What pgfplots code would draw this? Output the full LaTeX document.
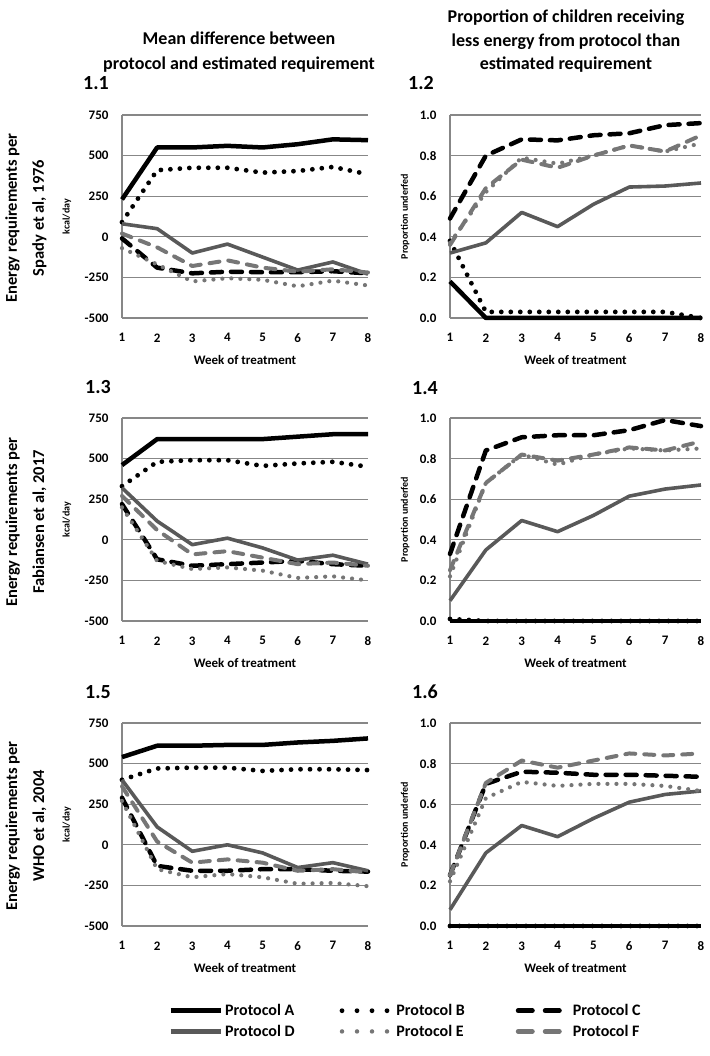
\documentclass[border=0pt]{standalone}
\usepackage{fontspec}
\setmainfont{Carlito}
\usepackage{pgfplots}
\usepackage{pgfplotstable}
\pgfplotsset{compat=1.18}

\definecolor{dgray}{RGB}{89,89,89}
\definecolor{mgray}{RGB}{118,118,118}
\definecolor{gridc}{RGB}{135,135,135}

% week A B C D E F
\pgfplotstableread{
w A B C D E F
1 230 90 -10 80 -70 20
2 550 410 -190 50 -170 -65
3 550 425 -225 -100 -275 -180
4 560 425 -215 -45 -255 -145
5 550 395 -218 -125 -265 -190
6 570 405 -218 -205 -305 -215
7 600 430 -212 -155 -270 -200
8 595 385 -225 -230 -300 -220
}\tabone
\pgfplotstableread{
w A B C D E F
1 0.18 0.38 0.49 0.32 0.37 0.36
2 0 0.03 0.80 0.37 0.62 0.64
3 0 0.03 0.88 0.52 0.79 0.78
4 0 0.03 0.875 0.45 0.76 0.74
5 0 0.03 0.90 0.56 0.80 0.80
6 0 0.03 0.91 0.645 0.85 0.85
7 0 0.03 0.95 0.65 0.82 0.82
8 0 0.0 0.96 0.665 0.86 0.90
}\tabtwo
\pgfplotstableread{
w A B C D E F
1 460 330 220 320 200 270
2 620 480 -120 115 -130 60
3 620 490 -160 -30 -180 -90
4 620 490 -150 10 -170 -70
5 620 455 -140 -50 -190 -110
6 635 470 -130 -125 -235 -150
7 650 480 -150 -95 -225 -140
8 650 450 -160 -150 -250 -160
}\tabthree
\pgfplotstableread{
w A B C D E F
1 0 0.01 0.33 0.10 0.22 0.25
2 0 0 0.84 0.35 0.68 0.68
3 0 0 0.905 0.495 0.82 0.82
4 0 0 0.915 0.44 0.77 0.79
5 0 0 0.915 0.52 0.82 0.82
6 0 0 0.94 0.615 0.85 0.855
7 0 0 0.99 0.65 0.84 0.84
8 0 0 0.96 0.67 0.85 0.885
}\tabfour
\pgfplotstableread{
w A B C D E F
1 540 400 290 400 270 360
2 610 470 -130 110 -150 20
3 610 475 -160 -40 -200 -110
4 615 475 -160 0 -180 -90
5 615 455 -150 -50 -200 -110
6 630 465 -150 -140 -240 -160
7 640 465 -160 -110 -235 -150
8 655 460 -165 -160 -255 -170
}\tabfive
\pgfplotstableread{
w A B C D E F
1 0 0 0.25 0.08 0.22 0.25
2 0 0 0.70 0.36 0.63 0.705
3 0 0 0.76 0.495 0.71 0.815
4 0 0 0.755 0.44 0.69 0.78
5 0 0 0.745 0.53 0.70 0.815
6 0 0 0.745 0.61 0.70 0.85
7 0 0 0.74 0.648 0.69 0.84
8 0 0 0.735 0.665 0.665 0.85
}\tabsix

\tikzset{
  pA/.style={black, line width=4.5pt, line join=round},
  pB/.style={black, line width=4.8pt, dash pattern=on 0pt off 9.5pt, line cap=round},
  pC/.style={black, line width=4.5pt, dash pattern=on 11pt off 9pt, line cap=round, line join=round},
  pD/.style={dgray, line width=3.6pt, line join=round},
  pE/.style={mgray, line width=4.2pt, dash pattern=on 0pt off 9pt, line cap=round},
  pF/.style={mgray, line width=4pt, dash pattern=on 10pt off 9pt, line cap=round, line join=round},
}

\pgfplotsset{
  panel/.style={
    scale only axis, height=203pt, xmin=1, xmax=8, xtick={1,...,8},
    axis x line*=bottom, axis y line*=left,
    axis line style={gridc, line width=1.2pt},
    ymajorgrids, grid style={gridc, line width=1.1pt},
    major tick length=0pt, clip=false,
    /pgf/number format/assume math mode=true,
    tick label style={font=\fontsize{13}{15}\selectfont\bfseries},
    xticklabel style={yshift=-12pt},
    yticklabel style={xshift=-10pt},
    xlabel={Week of treatment},
    xlabel style={at={(axis description cs:0.5,-0.207)}, anchor=center,
      font=\fontsize{13}{15}\selectfont\bfseries},
    ylabel style={anchor=center, font=\fontsize{10}{12}\selectfont\bfseries},
  },
  leftp/.style={panel, width=246pt, ymin=-500, ymax=750,
    ytick={-500,-250,0,250,500,750}, yticklabels={-500,-250,0,250,500,750},
    ylabel={kcal/day}, ylabel style={at={(axis description cs:-0.224,0.5)}}},
  rightp/.style={panel, width=251pt, ymin=0, ymax=1,
    ytick={0,0.2,0.4,0.6,0.8,1}, yticklabels={0.0,0.2,0.4,0.6,0.8,1.0},
    ylabel={Proportion underfed}, ylabel style={at={(axis description cs:-0.179,0.5)}}},
}

\newcommand{\sixlines}[1]{%
  \addplot[pA] table[x=w,y=A]{#1};
  \addplot[pB] table[x=w,y=B]{#1};
  \addplot[pC] table[x=w,y=C]{#1};
  \addplot[pD] table[x=w,y=D]{#1};
  \addplot[pE] table[x=w,y=E]{#1};
  \addplot[pF] table[x=w,y=F]{#1};
}

\begin{document}
\begin{tikzpicture}[x=1pt,y=1pt]
\path[use as bounding box] (0,0) rectangle (709,1056);

% column headers
\begin{scope}[every node/.style={font=\fontsize{18}{22}\selectfont\bfseries, anchor=base, inner sep=0pt}]
\node at (239,1011) {Mean difference between};
\node at (239,986) {protocol and estimated requirement};
\node at (566,1033) {Proportion of children receiving};
\node at (566,1009) {less energy from protocol than};
\node at (566,986) {estimated requirement};
\end{scope}

% row labels
\begin{scope}[every node/.style={font=\fontsize{16.5}{27}\selectfont\bfseries, rotate=90, align=center, anchor=center}]
\node at (26,838) {Energy requirements per\\Spady et al, 1976};
\node at (26,534) {Energy requirements per\\Fabiansen et al, 2017};
\node at (26,230) {Energy requirements per\\WHO et al, 2004};
\end{scope}

% panel numbers
\begin{scope}[every node/.style={font=\fontsize{20}{24}\selectfont\bfseries, anchor=base west, inner sep=0pt}]
\node at (83,966) {1.1};
\node at (408,966) {1.2};
\node at (85,662) {1.3};
\node at (412,661) {1.4};
\node at (85,357) {1.5};
\node at (412,357) {1.6};
\end{scope}

\begin{axis}[leftp, at={(122pt,738pt)}, anchor=south west]
\sixlines{\tabone}
\end{axis}
\begin{axis}[rightp, at={(450pt,738pt)}, anchor=south west]
\sixlines{\tabtwo}
\end{axis}
\begin{axis}[leftp, at={(122pt,435pt)}, anchor=south west]
\sixlines{\tabthree}
\end{axis}
\begin{axis}[rightp, at={(450pt,435pt)}, anchor=south west]
\sixlines{\tabfour}
\end{axis}
\begin{axis}[leftp, at={(122pt,130pt)}, anchor=south west]
\sixlines{\tabfive}
\end{axis}
\begin{axis}[rightp, at={(450pt,130pt)}, anchor=south west]
\sixlines{\tabsix}
\end{axis}

% legend
\begin{axis}[at={(0pt,0pt)}, anchor=south west, scale only axis,
  width=709pt, height=1056pt, xmin=0, xmax=709, ymin=0, ymax=1056,
  hide axis, legend columns=3,
  legend image code/.code={\draw[#1] (0pt,0pt) -- (50pt,0pt);},
  legend style={at={(0.2369,0.0510)}, anchor=north west, draw=none, fill=none,
    inner sep=0pt, row sep=4pt, font=\fontsize{16}{19}\selectfont\bfseries,
    /tikz/column 2/.append style={column sep=43pt},
    /tikz/column 4/.append style={column sep=49pt}},
  legend cell align=left]
\addlegendimage{black, line width=5pt}
\addlegendentry{Protocol A}
\addlegendimage{black, line width=4.8pt, dash pattern=on 0pt off 15pt, line cap=round}
\addlegendentry{Protocol B}
\addlegendimage{black, line width=5pt, dash pattern=on 14pt off 13pt, line cap=round}
\addlegendentry{Protocol C}
\addlegendimage{dgray, line width=5pt}
\addlegendentry{Protocol D}
\addlegendimage{mgray, line width=4.5pt, dash pattern=on 0pt off 15pt, line cap=round}
\addlegendentry{Protocol E}
\addlegendimage{mgray, line width=5pt, dash pattern=on 14pt off 13pt, line cap=round}
\addlegendentry{Protocol F}
\end{axis}
\end{tikzpicture}
\end{document}
